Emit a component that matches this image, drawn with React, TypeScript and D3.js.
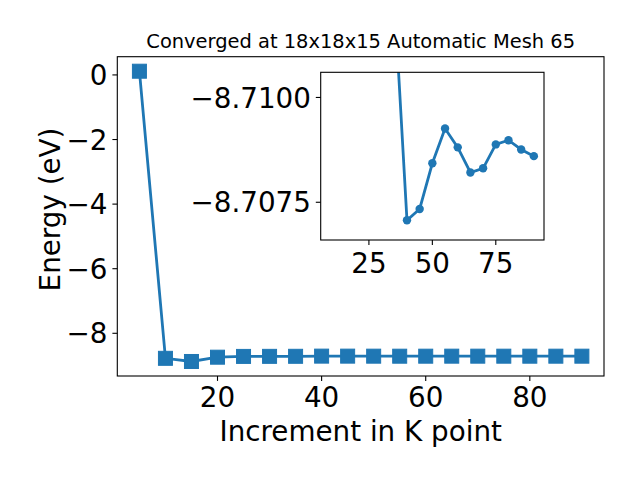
import React from "react";
import * as d3 from "d3";

const kPoints = [5, 10, 15, 20, 25, 30, 35, 40, 45, 50, 55, 60, 65, 70, 75, 80, 85, 90];
const energies = [
  0.115, -8.775, -8.873, -8.74, -8.716, -8.714, -8.7124, -8.70707, -8.70734, -8.70843,
  -8.70926, -8.70881, -8.70821, -8.70831, -8.70888, -8.70898, -8.70876, -8.7086,
];
const mainXTicks = [20, 40, 60, 80];
const mainYTicks = [0, -2, -4, -6, -8];
const insetXTicks = [25, 50, 75];
const insetYTicks = [-8.71, -8.7075];
const insetYLimits = [-8.7106, -8.7066];
const titleText = "Converged at 18x18x15 Automatic Mesh 65";
const xLabel = "Increment in K point";
const yLabel = "Energy (eV)";

const COLOR = "#1f77b4";
const FONT = "DejaVu Sans";
const TICK_FS = 27.78;

export default function App() {
  const W = 640, H = 480;
  const L = 117.3, R = 604, T = 56.7, B = 376;
  const data = kPoints.map((k, i) => ({ k, e: energies[i] }));
  const insetData = data.slice(1);

  const [xmin, xmax] = d3.extent(kPoints) as [number, number];
  const xpad = (xmax - xmin) * 0.05;
  const x = d3.scaleLinear().domain([xmin - xpad, xmax + xpad]).range([L, R]);
  const [ymin, ymax] = d3.extent(energies) as [number, number];
  const ypad = (ymax - ymin) * 0.05;
  const y = d3.scaleLinear().domain([ymin - ypad, ymax + ypad]).range([B, T]);

  // inset
  const iL = 320.7, iR = 544, iT = 72.3, iB = 240;
  const [ixmin, ixmax] = d3.extent(insetData, (d) => d.k) as [number, number];
  const ixpad = (ixmax - ixmin) * 0.05;
  const ix = d3.scaleLinear().domain([ixmin - ixpad, ixmax + ixpad]).range([iL, iR]);
  const iy = d3.scaleLinear().domain(insetYLimits).range([iT, iB]);

  const line = d3.line<{ k: number; e: number }>().x((d) => x(d.k)).y((d) => y(d.e));
  const iline = d3.line<{ k: number; e: number }>().x((d) => ix(d.k)).y((d) => iy(d.e));

  const fmtMain = d3.format("d");
  const fmtInset = d3.format(".4f");
  const ms = 14;

  return (
    <svg width={W} height={H} style={{ position: "absolute", left: 0, top: 0, background: "#fff" }} fontFamily={FONT}>
      <rect x={0} y={0} width={W} height={H} fill="#fff" />
      <defs>
        <clipPath id="insetClip">
          <rect x={iL} y={iT} width={iR - iL} height={iB - iT} />
        </clipPath>
      </defs>

      {/* main data */}
      <path d={line(data) || ""} fill="none" stroke={COLOR} strokeWidth={2.8} />
      {data.map((d, i) => (
        <rect key={i} x={x(d.k) - ms / 2} y={y(d.e) - ms / 2} width={ms} height={ms} fill={COLOR} stroke={COLOR} strokeWidth={1} />
      ))}

      {/* main frame */}
      <rect x={L} y={T} width={R - L} height={B - T} fill="none" stroke="#000" strokeWidth={1.1} />

      {/* main x ticks */}
      {mainXTicks.map((t) => (
        <g key={t}>
          <line x1={x(t)} x2={x(t)} y1={B} y2={B + 4.9} stroke="#000" strokeWidth={1.1} />
          <text x={x(t)} y={406.7} textAnchor="middle" fontSize={TICK_FS}>{fmtMain(t)}</text>
        </g>
      ))}
      {/* main y ticks */}
      {mainYTicks.map((t) => (
        <g key={t}>
          <line x1={L - 4.9} x2={L} y1={y(t)} y2={y(t)} stroke="#000" strokeWidth={1.1} />
          <text x={L - 9.8} y={y(t) + 10.1} textAnchor="end" fontSize={TICK_FS}>{fmtMain(t)}</text>
        </g>
      ))}

      {/* labels */}
      <text x={360.7} y={48} textAnchor="middle" fontSize={19.44}>{titleText}</text>
      <text x={360.7} y={441} textAnchor="middle" fontSize={27.78}>{xLabel}</text>
      <text transform="translate(59.7,209.5) rotate(-90)" textAnchor="middle" fontSize={27.78}>{yLabel}</text>

      {/* inset */}
      <rect x={iL} y={iT} width={iR - iL} height={iB - iT} fill="#fff" />
      <g clipPath="url(#insetClip)">
        <path d={iline(insetData) || ""} fill="none" stroke={COLOR} strokeWidth={2.8} />
        {insetData.map((d, i) => (
          <circle key={i} cx={ix(d.k)} cy={iy(d.e)} r={4.2} fill={COLOR} />
        ))}
      </g>
      <rect x={iL} y={iT} width={iR - iL} height={iB - iT} fill="none" stroke="#000" strokeWidth={1.1} />
      {insetXTicks.map((t) => (
        <g key={t}>
          <line x1={ix(t)} x2={ix(t)} y1={iB} y2={iB + 4.9} stroke="#000" strokeWidth={1.1} />
          <text x={ix(t)} y={272.5} textAnchor="middle" fontSize={TICK_FS}>{fmtMain(t)}</text>
        </g>
      ))}
      {insetYTicks.map((t) => (
        <g key={t}>
          <line x1={iL - 4.9} x2={iL} y1={iy(t)} y2={iy(t)} stroke="#000" strokeWidth={1.1} />
          <text x={iL - 9.8} y={iy(t) + 10.1} textAnchor="end" fontSize={TICK_FS}>{fmtInset(t).replace("-", "\u2212")}</text>
        </g>
      ))}
    </svg>
  );
}
